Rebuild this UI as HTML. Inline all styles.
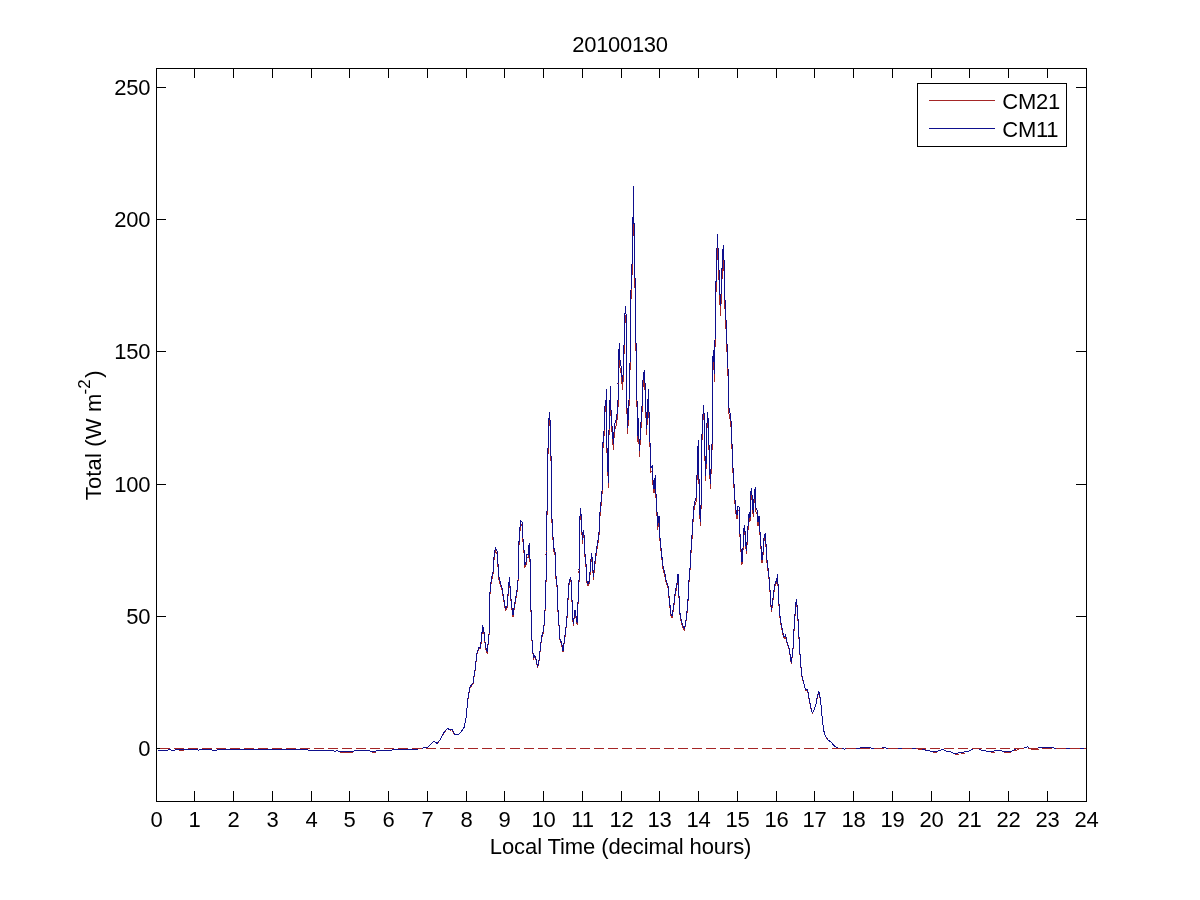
<!DOCTYPE html>
<html><head><meta charset="utf-8"><title>20100130</title>
<style>
html,body{margin:0;padding:0;background:#fff;}
body{width:1200px;height:900px;overflow:hidden;}
svg{display:block;will-change:transform;}
text{font-family:"Liberation Sans", Arial, Helvetica, sans-serif;font-size:22px;fill:#000;letter-spacing:-0.25px;}
</style></head><body>
<svg width="1200" height="900" viewBox="0 0 1200 900">
<rect x="0" y="0" width="1200" height="900" fill="#ffffff"/>
<g shape-rendering="crispEdges" stroke="#000" stroke-width="1" fill="none">
<line x1="194.5" y1="801" x2="194.5" y2="791"/><line x1="194.5" y1="69" x2="194.5" y2="78"/>
<line x1="233.5" y1="801" x2="233.5" y2="791"/><line x1="233.5" y1="69" x2="233.5" y2="78"/>
<line x1="272.5" y1="801" x2="272.5" y2="791"/><line x1="272.5" y1="69" x2="272.5" y2="78"/>
<line x1="311.5" y1="801" x2="311.5" y2="791"/><line x1="311.5" y1="69" x2="311.5" y2="78"/>
<line x1="349.5" y1="801" x2="349.5" y2="791"/><line x1="349.5" y1="69" x2="349.5" y2="78"/>
<line x1="388.5" y1="801" x2="388.5" y2="791"/><line x1="388.5" y1="69" x2="388.5" y2="78"/>
<line x1="427.5" y1="801" x2="427.5" y2="791"/><line x1="427.5" y1="69" x2="427.5" y2="78"/>
<line x1="466.5" y1="801" x2="466.5" y2="791"/><line x1="466.5" y1="69" x2="466.5" y2="78"/>
<line x1="504.5" y1="801" x2="504.5" y2="791"/><line x1="504.5" y1="69" x2="504.5" y2="78"/>
<line x1="543.5" y1="801" x2="543.5" y2="791"/><line x1="543.5" y1="69" x2="543.5" y2="78"/>
<line x1="582.5" y1="801" x2="582.5" y2="791"/><line x1="582.5" y1="69" x2="582.5" y2="78"/>
<line x1="621.5" y1="801" x2="621.5" y2="791"/><line x1="621.5" y1="69" x2="621.5" y2="78"/>
<line x1="659.5" y1="801" x2="659.5" y2="791"/><line x1="659.5" y1="69" x2="659.5" y2="78"/>
<line x1="698.5" y1="801" x2="698.5" y2="791"/><line x1="698.5" y1="69" x2="698.5" y2="78"/>
<line x1="737.5" y1="801" x2="737.5" y2="791"/><line x1="737.5" y1="69" x2="737.5" y2="78"/>
<line x1="776.5" y1="801" x2="776.5" y2="791"/><line x1="776.5" y1="69" x2="776.5" y2="78"/>
<line x1="814.5" y1="801" x2="814.5" y2="791"/><line x1="814.5" y1="69" x2="814.5" y2="78"/>
<line x1="853.5" y1="801" x2="853.5" y2="791"/><line x1="853.5" y1="69" x2="853.5" y2="78"/>
<line x1="892.5" y1="801" x2="892.5" y2="791"/><line x1="892.5" y1="69" x2="892.5" y2="78"/>
<line x1="931.5" y1="801" x2="931.5" y2="791"/><line x1="931.5" y1="69" x2="931.5" y2="78"/>
<line x1="969.5" y1="801" x2="969.5" y2="791"/><line x1="969.5" y1="69" x2="969.5" y2="78"/>
<line x1="1008.5" y1="801" x2="1008.5" y2="791"/><line x1="1008.5" y1="69" x2="1008.5" y2="78"/>
<line x1="1047.5" y1="801" x2="1047.5" y2="791"/><line x1="1047.5" y1="69" x2="1047.5" y2="78"/>
<line x1="157" y1="748.5" x2="166" y2="748.5"/><line x1="1086" y1="748.5" x2="1076" y2="748.5"/>
<line x1="157" y1="616.5" x2="166" y2="616.5"/><line x1="1086" y1="616.5" x2="1076" y2="616.5"/>
<line x1="157" y1="484.5" x2="166" y2="484.5"/><line x1="1086" y1="484.5" x2="1076" y2="484.5"/>
<line x1="157" y1="351.5" x2="166" y2="351.5"/><line x1="1086" y1="351.5" x2="1076" y2="351.5"/>
<line x1="157" y1="219.5" x2="166" y2="219.5"/><line x1="1086" y1="219.5" x2="1076" y2="219.5"/>
<line x1="157" y1="87.5" x2="166" y2="87.5"/><line x1="1086" y1="87.5" x2="1076" y2="87.5"/>
</g>
<polyline points="157.5,750.5 167.5,750.5 168.5,749.5 170.5,749.5 171.5,750.5 174.5,750.5 175.5,749.5 197.5,749.5 198.5,750.5 199.5,749.5 211.5,749.5 212.5,750.5 216.5,750.5 217.5,749.5 307.5,749.5 308.5,750.5 329.5,750.5 330.5,750.5 333.5,750.5 334.5,751.5 335.5,751.5 336.5,750.5 337.5,750.5 338.5,751.5 353.5,751.5 354.5,750.5 369.5,750.5 370.5,751.5 375.5,751.5 376.5,750.5 391.5,750.5 392.5,749.5 399.5,749.5 400.0,749.6 412.0,750.0 420.0,748.6 428.0,747.0 434.0,741.1 437.0,743.5 440.0,740.1 444.0,732.6 447.4,728.6 450.0,730.2 452.0,729.6 454.4,734.2 458.0,735.1 461.0,732.2 464.0,727.8 466.0,718.3 468.0,698.6 470.0,687.7 473.0,683.8 475.0,670.9 477.0,654.2 479.0,648.3 480.0,649.3 481.4,641.4 482.6,627.2 484.0,633.5 485.6,648.3 487.2,653.2 489.0,635.5 490.0,594.2 491.2,582.4 493.0,574.6 494.4,554.9 495.6,550.6 497.0,554.0 498.0,566.7 499.0,579.5 499.6,582.4 499.6,582.4 502.0,590.3 504.0,602.0 505.4,610.3 507.0,607.9 509.0,584.4 509.4,579.5 510.0,588.3 511.4,606.0 513.0,616.8 515.0,604.0 517.0,592.2 518.0,582.4 518.6,551.0 519.6,535.4 520.6,524.0 522.0,525.6 522.8,539.3 524.0,553.0 524.8,567.7 526.0,564.7 527.0,556.9 528.0,557.9 529.2,546.7 530.0,561.8 530.8,582.4 530.8,582.4 531.0,611.9 532.0,641.4 533.4,659.1 535.0,656.7 536.4,661.1 537.6,668.0 539.0,661.1 541.0,643.4 542.4,634.5 543.6,632.5 545.0,611.9 546.0,582.4 546.0,554.9 546.8,521.7 547.6,496.2 548.2,435.8 549.4,418.6 550.4,430.9 550.6,459.1 551.6,463.0 552.0,522.6 553.6,550.0 555.0,554.9 556.0,578.5 556.8,582.4 556.8,582.4 558.0,611.9 560.0,640.4 561.6,644.3 563.0,652.2 564.4,641.4 566.0,628.6 567.6,611.9 568.4,589.3 569.4,582.4 570.4,580.4 571.4,583.4 571.8,598.1 572.4,609.9 573.2,625.6 575.0,611.9 576.0,617.8 577.2,624.7 578.4,594.2 579.0,582.4 579.0,572.6 579.6,527.5 580.4,512.3 581.4,521.7 582.4,543.2 583.4,533.8 584.4,541.2 585.0,556.9 586.0,566.7 586.8,582.4 588.0,585.9 589.2,583.4 590.4,570.6 591.4,555.9 592.4,562.8 593.4,579.5 594.4,568.7 596.0,555.9 597.0,549.1 598.0,543.2 599.0,535.4 600.0,515.8 601.0,506.0 602.0,495.3 602.8,450.4 604.0,436.7 604.8,414.3 605.6,406.6 606.0,406.6 606.2,395.9 606.6,406.6 606.6,406.6 607.0,453.3 607.6,465.0 608.4,487.4 609.0,435.8 610.0,406.6 610.2,406.6 610.4,393.0 610.8,406.6 611.0,416.3 612.0,431.9 613.4,449.4 614.4,430.9 616.0,426.0 617.4,418.2 618.0,406.6 618.0,391.0 618.4,365.8 619.4,351.2 620.0,367.7 621.4,375.5 622.4,389.1 623.6,375.5 624.4,332.8 625.4,315.8 626.4,327.0 626.8,406.6 627.6,433.8 629.0,406.6 630.0,371.6 631.0,299.9 632.0,274.8 632.0,229.5 633.0,229.5 633.0,199.6 633.0,235.3 634.0,235.3 634.4,280.6 635.2,290.2 635.6,346.4 636.4,356.1 637.0,406.6 637.6,441.6 638.4,424.1 639.4,456.2 641.0,428.0 642.4,406.6 643.0,387.1 644.2,377.8 645.2,393.0 645.6,406.6 646.6,434.8 647.6,412.4 648.6,395.9 649.0,418.2 650.0,447.4 650.6,472.8 652.4,470.5 653.0,484.5 654.0,493.3 655.2,480.2 656.0,498.2 657.0,515.8 657.6,529.5 659.0,519.7 660.0,541.2 661.6,556.9 663.0,568.7 665.0,576.5 666.0,582.4 668.0,588.3 669.6,604.0 671.0,615.8 672.0,617.8 673.4,609.9 675.0,596.1 676.6,587.3 677.6,582.4 678.0,576.9 678.6,582.4 679.4,611.9 681.0,620.7 682.6,626.6 684.4,630.6 686.0,621.7 687.6,607.9 688.6,592.2 689.0,582.4 690.0,570.6 691.0,553.0 692.4,533.4 693.6,511.9 695.0,505.0 696.6,500.1 697.4,461.1 698.4,445.5 699.4,508.0 700.4,525.6 701.2,504.0 701.8,443.5 702.6,429.9 703.4,411.4 704.4,424.1 705.0,461.1 705.8,480.6 706.6,435.8 707.6,418.2 708.6,433.8 709.4,465.0 710.4,488.4 711.4,465.0 712.2,445.5 712.6,406.6 712.6,367.7 713.6,358.0 714.4,381.3 715.0,348.3 716.0,292.2 716.8,267.1 717.4,245.9 718.4,267.1 719.4,288.3 720.4,315.4 721.6,292.2 722.4,267.1 723.4,256.5 724.4,280.6 725.2,317.3 726.0,328.9 727.0,352.2 728.0,375.5 728.6,406.6 729.0,414.3 730.4,421.2 731.6,431.9 732.4,465.0 733.6,480.6 734.6,498.2 735.6,511.9 737.0,518.7 738.0,509.9 739.0,510.9 739.6,529.5 740.6,547.1 742.0,564.7 743.0,551.0 743.6,533.4 744.6,529.1 745.6,543.2 746.4,554.0 747.4,539.3 748.4,523.6 749.2,515.8 750.0,521.7 750.6,498.2 751.4,492.3 752.4,504.0 753.2,516.8 754.2,500.1 755.2,491.7 756.0,511.9 757.4,514.8 758.0,525.6 759.0,519.7 760.0,535.4 761.0,549.1 762.0,562.8 763.0,554.9 764.0,541.2 765.2,536.3 766.0,547.1 767.0,562.8 768.0,570.6 769.4,582.4 770.4,598.1 771.4,611.9 772.6,604.0 773.6,594.2 775.0,586.3 776.6,582.4 777.6,577.5 778.0,586.3 779.4,613.8 781.0,624.7 783.0,634.5 784.0,638.4 785.6,636.5 787.0,643.4 789.0,649.3 790.0,655.2 791.4,664.0 793.0,649.3 794.4,623.7 795.6,607.9 796.4,601.1 797.4,609.9 798.6,631.5 800.0,655.2 801.6,674.9 803.6,682.8 805.6,690.7 807.6,690.3 809.0,698.6 811.0,708.4 812.4,713.4 814.0,710.4 816.0,704.5 817.6,695.6 819.0,692.3 820.6,700.5 822.0,716.4 823.6,730.2 825.0,735.1 828.0,740.1 831.0,742.1 834.0,745.6 838.5,748.5 843.5,748.5 844.5,749.5 845.5,748.5 859.5,748.5 860.5,747.5 870.5,747.5 871.5,748.5 881.5,748.5 882.5,747.5 885.5,747.5 886.5,748.5 921.5,748.5 922.5,749.5 924.5,749.5 925.5,750.5 929.5,750.5 930.5,751.5 937.5,751.5 938.5,750.5 940.5,750.5 941.5,749.5 943.5,749.5 944.5,750.5 945.5,750.5 946.5,751.5 950.5,751.5 951.5,752.5 952.5,752.5 953.5,753.5 957.5,753.5 958.5,752.5 963.5,752.5 964.5,751.5 968.5,751.5 969.5,750.5 970.5,750.5 971.5,749.5 972.5,749.5 973.5,748.5 978.5,748.5 979.5,749.5 980.5,749.5 981.5,750.5 985.5,750.5 986.5,751.5 993.5,751.5 994.5,750.5 1001.5,750.5 1002.5,751.5 1011.5,751.5 1012.5,750.5 1013.5,750.5 1014.5,749.5 1015.5,749.5 1016.5,748.5 1023.5,748.5 1024.5,747.5 1026.5,747.5 1027.5,746.5 1028.5,747.5 1029.5,748.5 1037.5,748.5 1038.5,747.5 1053.5,747.5 1054.5,748.5 1085.5,748.5 1086.5,748.5" fill="none" stroke="#a52626" stroke-width="1" shape-rendering="crispEdges" stroke-linejoin="round"/>
<polyline points="178.5,750.5 183.5,750.5" fill="none" stroke="#a52626" stroke-width="1" shape-rendering="crispEdges" stroke-linejoin="round"/>
<polyline points="339.5,752.5 352.5,752.5" fill="none" stroke="#a52626" stroke-width="1" shape-rendering="crispEdges" stroke-linejoin="round"/>
<polyline points="371.5,752.5 375.5,752.5" fill="none" stroke="#a52626" stroke-width="1" shape-rendering="crispEdges" stroke-linejoin="round"/>
<polyline points="917.5,749.5 925.5,749.5" fill="none" stroke="#a52626" stroke-width="1" shape-rendering="crispEdges" stroke-linejoin="round"/>
<polyline points="932.5,752.5 936.5,752.5" fill="none" stroke="#a52626" stroke-width="1" shape-rendering="crispEdges" stroke-linejoin="round"/>
<polyline points="954.5,754.5 958.5,754.5" fill="none" stroke="#a52626" stroke-width="1" shape-rendering="crispEdges" stroke-linejoin="round"/>
<polyline points="960.5,753.5 964.5,753.5" fill="none" stroke="#a52626" stroke-width="1" shape-rendering="crispEdges" stroke-linejoin="round"/>
<polyline points="990.5,752.5 994.5,752.5" fill="none" stroke="#a52626" stroke-width="1" shape-rendering="crispEdges" stroke-linejoin="round"/>
<polyline points="1003.5,752.5 1010.5,752.5" fill="none" stroke="#a52626" stroke-width="1" shape-rendering="crispEdges" stroke-linejoin="round"/>
<polyline points="1014.5,750.5 1019.5,749.5" fill="none" stroke="#a52626" stroke-width="1" shape-rendering="crispEdges" stroke-linejoin="round"/>
<polyline points="1030.5,749.5 1038.5,749.5" fill="none" stroke="#a52626" stroke-width="1" shape-rendering="crispEdges" stroke-linejoin="round"/>
<polyline points="157.5,750.5 167.5,750.5 168.5,749.5 170.5,749.5 171.5,750.5 174.5,750.5 175.5,749.5 197.5,749.5 198.5,750.5 199.5,749.5 211.5,749.5 212.5,750.5 216.5,750.5 217.5,749.5 307.5,749.5 308.5,750.5 329.5,750.5 330.5,750.5 333.5,750.5 334.5,751.5 335.5,751.5 336.5,750.5 337.5,750.5 338.5,751.5 353.5,751.5 354.5,750.5 369.5,750.5 370.5,751.5 375.5,751.5 376.5,750.5 391.5,750.5 392.5,749.5 399.5,749.5 400.0,749.6 412.0,750.0 420.0,748.6 428.0,747.0 434.0,741.0 437.0,743.4 440.0,740.0 444.0,732.4 447.4,728.4 450.0,730.0 452.0,729.4 454.4,734.0 458.0,735.0 461.0,732.0 464.0,727.6 466.0,718.0 468.0,698.0 470.0,687.0 473.0,683.0 475.0,670.0 477.0,653.0 479.0,647.0 480.0,648.0 481.4,640.0 482.6,625.6 484.0,632.0 485.6,647.0 487.2,652.0 489.0,634.0 490.0,592.0 491.2,580.0 493.0,572.0 494.4,552.0 495.6,547.6 497.0,551.0 498.0,564.0 499.0,577.0 499.6,580.0 499.6,580.0 502.0,588.0 504.0,600.0 505.4,608.4 507.0,606.0 509.0,582.0 509.4,577.0 510.0,586.0 511.4,604.0 513.0,615.0 515.0,602.0 517.0,590.0 518.0,580.0 518.6,548.0 519.6,532.0 520.6,520.4 522.0,522.0 522.8,536.0 524.0,550.0 524.8,565.0 526.0,562.0 527.0,554.0 528.0,555.0 529.2,543.6 530.0,559.0 530.8,580.0 530.8,580.0 531.0,610.0 532.0,640.0 533.4,658.0 535.0,655.6 536.4,660.0 537.6,667.0 539.0,660.0 541.0,642.0 542.4,633.0 543.6,631.0 545.0,610.0 546.0,580.0 546.0,552.0 546.8,518.0 547.6,492.0 548.2,430.0 549.4,412.4 550.4,425.0 550.6,454.0 551.6,458.0 552.0,519.0 553.6,547.0 555.0,552.0 556.0,576.0 556.8,580.0 556.8,580.0 558.0,610.0 560.0,639.0 561.6,643.0 563.0,651.0 564.4,640.0 566.0,627.0 567.6,610.0 568.4,587.0 569.4,580.0 570.4,578.0 571.4,581.0 571.8,596.0 572.4,608.0 573.2,624.0 575.0,610.0 576.0,616.0 577.2,623.0 578.4,592.0 579.0,580.0 579.0,570.0 579.6,524.0 580.4,508.4 581.4,518.0 582.4,540.0 583.4,530.4 584.4,538.0 585.0,554.0 586.0,564.0 586.8,580.0 588.0,583.6 589.2,581.0 590.4,568.0 591.4,553.0 592.4,560.0 593.4,577.0 594.4,566.0 596.0,553.0 597.0,546.0 598.0,540.0 599.0,532.0 600.0,512.0 601.0,502.0 602.0,491.0 602.8,445.0 604.0,431.0 604.8,408.0 605.6,400.0 606.0,400.0 606.2,389.0 606.6,400.0 606.6,400.0 607.0,448.0 607.6,460.0 608.4,483.0 609.0,430.0 610.0,400.0 610.2,400.0 610.4,386.0 610.8,400.0 611.0,410.0 612.0,426.0 613.4,444.0 614.4,425.0 616.0,420.0 617.4,412.0 618.0,400.0 618.0,384.0 618.4,358.0 619.4,343.0 620.0,360.0 621.4,368.0 622.4,382.0 623.6,368.0 624.4,324.0 625.4,306.4 626.4,318.0 626.8,400.0 627.6,428.0 629.0,400.0 630.0,364.0 631.0,290.0 632.0,264.0 632.0,217.0 633.0,217.0 633.0,186.0 633.0,223.0 634.0,223.0 634.4,270.0 635.2,280.0 635.6,338.0 636.4,348.0 637.0,400.0 637.6,436.0 638.4,418.0 639.4,451.0 641.0,422.0 642.4,400.0 643.0,380.0 644.2,370.4 645.2,386.0 645.6,400.0 646.6,429.0 647.6,406.0 648.6,389.0 649.0,412.0 650.0,442.0 650.6,468.0 652.4,465.6 653.0,480.0 654.0,489.0 655.2,475.6 656.0,494.0 657.0,512.0 657.6,526.0 659.0,516.0 660.0,538.0 661.6,554.0 663.0,566.0 665.0,574.0 666.0,580.0 668.0,586.0 669.6,602.0 671.0,614.0 672.0,616.0 673.4,608.0 675.0,594.0 676.6,585.0 677.6,580.0 678.0,574.4 678.6,580.0 679.4,610.0 681.0,619.0 682.6,625.0 684.4,629.0 686.0,620.0 687.6,606.0 688.6,590.0 689.0,580.0 690.0,568.0 691.0,550.0 692.4,530.0 693.6,508.0 695.0,501.0 696.6,496.0 697.4,456.0 698.4,440.0 699.4,504.0 700.4,522.0 701.2,500.0 701.8,438.0 702.6,424.0 703.4,405.0 704.4,418.0 705.0,456.0 705.8,476.0 706.6,430.0 707.6,412.0 708.6,428.0 709.4,460.0 710.4,484.0 711.4,460.0 712.2,440.0 712.6,400.0 712.6,360.0 713.6,350.0 714.4,374.0 715.0,340.0 716.0,282.0 716.8,256.0 717.4,234.0 718.4,256.0 719.4,278.0 720.4,306.0 721.6,282.0 722.4,256.0 723.4,245.0 724.4,270.0 725.2,308.0 726.0,320.0 727.0,344.0 728.0,368.0 728.6,400.0 729.0,408.0 730.4,415.0 731.6,426.0 732.4,460.0 733.6,476.0 734.6,494.0 735.6,508.0 737.0,515.0 738.0,506.0 739.0,507.0 739.6,526.0 740.6,544.0 742.0,562.0 743.0,548.0 743.6,530.0 744.6,525.6 745.6,540.0 746.4,551.0 747.4,536.0 748.4,520.0 749.2,512.0 750.0,518.0 750.6,494.0 751.4,488.0 752.4,500.0 753.2,513.0 754.2,496.0 755.2,487.4 756.0,508.0 757.4,511.0 758.0,522.0 759.0,516.0 760.0,532.0 761.0,546.0 762.0,560.0 763.0,552.0 764.0,538.0 765.2,533.0 766.0,544.0 767.0,560.0 768.0,568.0 769.4,580.0 770.4,596.0 771.4,610.0 772.6,602.0 773.6,592.0 775.0,584.0 776.6,580.0 777.6,575.0 778.0,584.0 779.4,612.0 781.0,623.0 783.0,633.0 784.0,637.0 785.6,635.0 787.0,642.0 789.0,648.0 790.0,654.0 791.4,663.0 793.0,648.0 794.4,622.0 795.6,606.0 796.4,599.0 797.4,608.0 798.6,630.0 800.0,654.0 801.6,674.0 803.6,682.0 805.6,690.0 807.6,689.6 809.0,698.0 811.0,708.0 812.4,713.0 814.0,710.0 816.0,704.0 817.6,695.0 819.0,691.6 820.6,700.0 822.0,716.0 823.6,730.0 825.0,735.0 828.0,740.0 831.0,742.0 834.0,745.6 838.5,748.5 843.5,748.5 844.5,749.5 845.5,748.5 859.5,748.5 860.5,747.5 870.5,747.5 871.5,748.5 881.5,748.5 882.5,747.5 885.5,747.5 886.5,748.5 921.5,748.5 922.5,749.5 924.5,749.5 925.5,750.5 929.5,750.5 930.5,751.5 937.5,751.5 938.5,750.5 940.5,750.5 941.5,749.5 943.5,749.5 944.5,750.5 945.5,750.5 946.5,751.5 950.5,751.5 951.5,752.5 952.5,752.5 953.5,753.5 957.5,753.5 958.5,752.5 963.5,752.5 964.5,751.5 968.5,751.5 969.5,750.5 970.5,750.5 971.5,749.5 972.5,749.5 973.5,748.5 978.5,748.5 979.5,749.5 980.5,749.5 981.5,750.5 985.5,750.5 986.5,751.5 993.5,751.5 994.5,750.5 1001.5,750.5 1002.5,751.5 1011.5,751.5 1012.5,750.5 1013.5,750.5 1014.5,749.5 1015.5,749.5 1016.5,748.5 1023.5,748.5 1024.5,747.5 1026.5,747.5 1027.5,746.5 1028.5,747.5 1029.5,748.5 1037.5,748.5 1038.5,747.5 1053.5,747.5 1054.5,748.5 1085.5,748.5 1086.5,748.5" fill="none" stroke="#0e0f8d" stroke-width="1" shape-rendering="crispEdges" stroke-linejoin="round"/>
<line x1="160" y1="748.5" x2="1086" y2="748.5" stroke="#a52626" stroke-width="1" stroke-dasharray="9.5 4.5" shape-rendering="crispEdges"/>
<rect x="156.5" y="68.5" width="930" height="733" fill="none" stroke="#000" stroke-width="1" shape-rendering="crispEdges"/>
<g text-anchor="middle">
<text x="156.5" y="826.6">0</text><text x="194.5" y="826.6">1</text><text x="233.5" y="826.6">2</text><text x="272.5" y="826.6">3</text><text x="311.5" y="826.6">4</text><text x="349.5" y="826.6">5</text><text x="388.5" y="826.6">6</text><text x="427.5" y="826.6">7</text><text x="466.5" y="826.6">8</text><text x="504.5" y="826.6">9</text><text x="543.5" y="826.6">10</text><text x="582.5" y="826.6">11</text><text x="621.5" y="826.6">12</text><text x="659.5" y="826.6">13</text><text x="698.5" y="826.6">14</text><text x="737.5" y="826.6">15</text><text x="776.5" y="826.6">16</text><text x="814.5" y="826.6">17</text><text x="853.5" y="826.6">18</text><text x="892.5" y="826.6">19</text><text x="931.5" y="826.6">20</text><text x="969.5" y="826.6">21</text><text x="1008.5" y="826.6">22</text><text x="1047.5" y="826.6">23</text><text x="1086.5" y="826.6">24</text>
</g>
<g text-anchor="end">
<text x="150.3" y="756">0</text><text x="150.3" y="624">50</text><text x="150.3" y="492">100</text><text x="150.3" y="359">150</text><text x="150.3" y="227">200</text><text x="150.3" y="95">250</text>
</g>
<text x="620" y="51.6" text-anchor="middle" style="letter-spacing:-0.32px">20100130</text>
<text x="620.6" y="853.6" text-anchor="middle" style="letter-spacing:-0.1px">Local Time (decimal hours)</text>
<text transform="translate(101,435.3) rotate(-90)" text-anchor="middle" style="letter-spacing:0.15px">Total (W m<tspan dx="-0.8" dy="-11.5" font-size="17px">-2</tspan><tspan dx="1.2" dy="11.5">)</tspan></text>
<g shape-rendering="crispEdges">
<rect x="917.5" y="83.5" width="149" height="63" fill="#fff" stroke="#000" stroke-width="1"/>
<line x1="929" y1="100.5" x2="995" y2="100.5" stroke="#a52626" stroke-width="1"/>
<line x1="929" y1="128.5" x2="995" y2="128.5" stroke="#0e0f8d" stroke-width="1"/>
</g>
<text x="1002.3" y="108.8">CM21</text>
<text x="1002.3" y="136.8">CM11</text>
</svg>
</body></html>
